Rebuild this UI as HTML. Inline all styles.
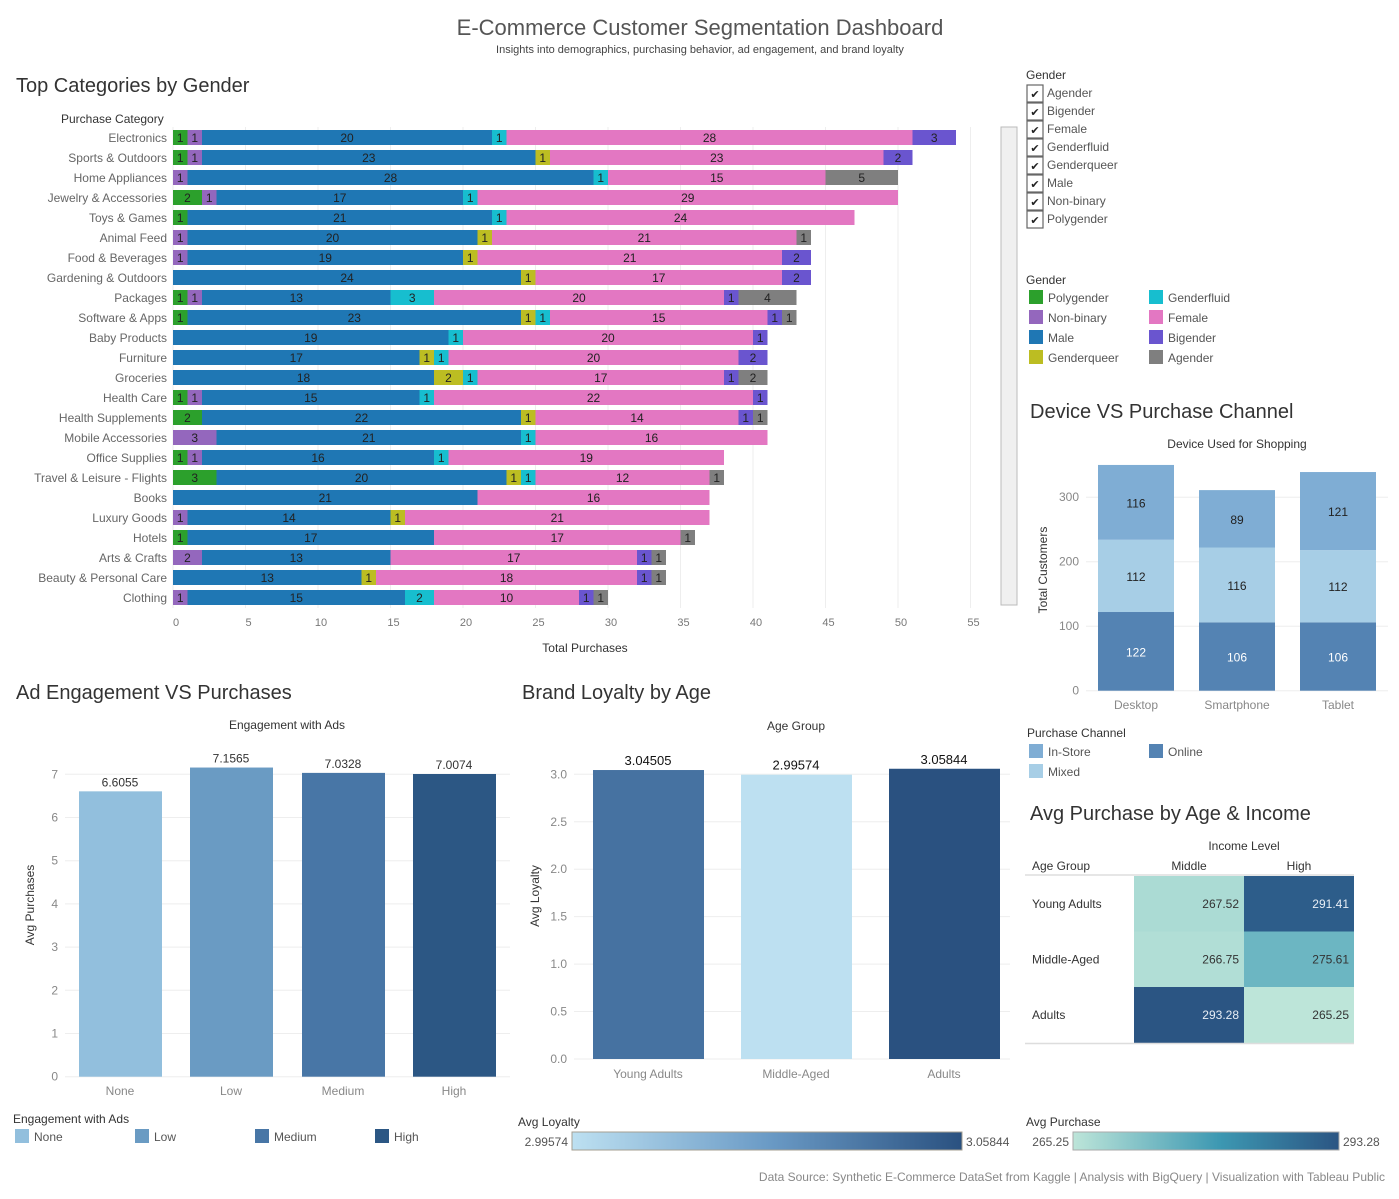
<!DOCTYPE html>
<html><head><meta charset="utf-8">
<style>
html,body{margin:0;padding:0;background:#fff;}
svg{display:block;font-family:"Liberation Sans",sans-serif;}
</style></head>
<body>
<svg id="dash" width="1399" height="1199" viewBox="0 0 1399 1199" xmlns="http://www.w3.org/2000/svg">
<rect x="0" y="0" width="1399" height="1199" fill="#fff"/>
<text x="700" y="35" text-anchor="middle" font-size="22" fill="#555">E-Commerce Customer Segmentation Dashboard</text>
<text x="700" y="53" text-anchor="middle" font-size="11" fill="#444">Insights into demographics, purchasing behavior, ad engagement, and brand loyalty</text>
<text x="16" y="92" font-size="20" fill="#333">Top Categories by Gender</text>
<text x="61" y="123" font-size="12" fill="#333">Purchase Category</text>
<rect x="1001" y="127" width="16" height="478" fill="#f0f0f0" stroke="#bbb"/>
<text x="585" y="652" text-anchor="middle" font-size="12" fill="#333">Total Purchases</text>
<g id="gbar"></g>
<text x="1026" y="79" font-size="12" fill="#333">Gender</text>
<g id="gfilter"></g>
<text x="1026" y="284" font-size="12" fill="#333">Gender</text>
<g id="glegend"></g>
<text x="1030" y="418" font-size="20" fill="#333">Device VS Purchase Channel</text>
<text x="1237" y="448" text-anchor="middle" font-size="12" fill="#333">Device Used for Shopping</text>
<text transform="translate(1047,570) rotate(-90)" text-anchor="middle" font-size="12" fill="#333">Total Customers</text>
<g id="gdev"></g>
<text x="1027" y="737" font-size="12" fill="#333">Purchase Channel</text>
<g id="gchan"></g>
<text x="16" y="699" font-size="20" fill="#333">Ad Engagement VS Purchases</text>
<text x="287" y="729" text-anchor="middle" font-size="12" fill="#333">Engagement with Ads</text>
<text transform="translate(34,905) rotate(-90)" text-anchor="middle" font-size="12" fill="#333">Avg Purchases</text>
<g id="gad"></g>
<text x="13" y="1123" font-size="12" fill="#333">Engagement with Ads</text>
<text x="522" y="699" font-size="20" fill="#333">Brand Loyalty by Age</text>
<text x="796" y="730" text-anchor="middle" font-size="12" fill="#333">Age Group</text>
<text transform="translate(539,896) rotate(-90)" text-anchor="middle" font-size="12" fill="#333">Avg Loyalty</text>
<g id="gloy"></g>
<text x="518" y="1126" font-size="12" fill="#333">Avg Loyalty</text>
<defs>
<linearGradient id="lgLoy" x1="0" x2="1"><stop offset="0" stop-color="#bde0f1"/><stop offset="0.5" stop-color="#6b9bc6"/><stop offset="1" stop-color="#2a5180"/></linearGradient>
<linearGradient id="lgPur" x1="0" x2="1"><stop offset="0" stop-color="#bde5d9"/><stop offset="0.55" stop-color="#3d98b2"/><stop offset="1" stop-color="#2b5583"/></linearGradient>
</defs>
<rect x="572" y="1132" width="390" height="18" fill="url(#lgLoy)" stroke="#a59f92"/>
<text x="568" y="1146" text-anchor="end" font-size="12" fill="#555">2.99574</text>
<text x="966" y="1146" font-size="12" fill="#555">3.05844</text>
<text x="1030" y="820" font-size="20" fill="#333">Avg Purchase by Age &amp; Income</text>
<text x="1244" y="850" text-anchor="middle" font-size="12" fill="#333">Income Level</text>
<text x="1032" y="870" font-size="12" fill="#333">Age Group</text>
<g id="gheat"></g>
<text x="1026" y="1126" font-size="12" fill="#333">Avg Purchase</text>
<rect x="1073" y="1132" width="266" height="18" fill="url(#lgPur)" stroke="#aaa"/>
<text x="1069" y="1146" text-anchor="end" font-size="12" fill="#555">265.25</text>
<text x="1343" y="1146" font-size="12" fill="#555">293.28</text>
<text x="1385" y="1181" text-anchor="end" font-size="12" fill="#888">Data Source: Synthetic E-Commerce DataSet from Kaggle | Analysis with BigQuery | Visualization with Tableau Public</text>
</svg>
<script>
// ---- Top categories data ----
const categories = ["Electronics","Sports & Outdoors","Home Appliances","Jewelry & Accessories","Toys & Games","Animal Feed","Food & Beverages","Gardening & Outdoors","Packages","Software & Apps","Baby Products","Furniture","Groceries","Health Care","Health Supplements","Mobile Accessories","Office Supplies","Travel & Leisure - Flights","Books","Luxury Goods","Hotels","Arts & Crafts","Beauty & Personal Care","Clothing"];
const genders = ["Polygender","Non-binary","Male","Genderqueer","Genderfluid","Female","Bigender","Agender"];
const polygender = [1,1,0,2,1,0,0,0,1,1,0,0,0,1,2,0,1,3,0,0,1,0,0,0];
const nonbinary  = [1,1,1,1,0,1,1,0,1,0,0,0,0,1,0,3,1,0,0,1,0,2,0,1];
const male       = [20,23,28,17,21,20,19,24,13,23,19,17,18,15,22,21,16,20,21,14,17,13,13,15];
const genderqueer= [0,1,0,0,0,1,1,1,0,1,0,1,2,0,1,0,0,1,0,1,0,0,1,0];
const genderfluid= [1,0,1,1,1,0,0,0,3,1,1,1,1,1,0,1,1,1,0,0,0,0,0,2];
const female     = [28,23,15,29,24,21,21,17,20,15,20,20,17,22,14,16,19,12,16,21,17,17,18,10];
const bigender   = [3,2,0,0,0,0,2,2,1,1,1,2,1,1,1,0,0,0,0,0,0,1,1,1];
const agender    = [0,0,5,0,0,1,0,0,4,1,0,0,2,0,1,0,0,1,0,0,1,1,1,1];
const xTicks = [0,5,10,15,20,25,30,35,40,45,50,55];
// ---- Device data ----
const devices = ["Desktop","Smartphone","Tablet"];
const onlineVals = [122,106,106];
const mixedVals = [112,116,112];
const instoreVals = [116,89,121];
const devTicks = [0,100,200,300];
// ---- Ad engagement ----
const engLevels = ["None","Low","Medium","High"];
const engValues = [6.6055,7.1565,7.0328,7.0074];
const engLabels = ["6.6055","7.1565","7.0328","7.0074"];
const engTicks = [0,1,2,3,4,5,6,7];
// ---- Loyalty ----
const ageGroups = ["Young Adults","Middle-Aged","Adults"];
const loyaltyValues = [3.04505,2.99574,3.05844];
const loyaltyLabels = ["3.04505","2.99574","3.05844"];
const loyTicks = ["0.0","0.5","1.0","1.5","2.0","2.5","3.0"];
// ---- Heatmap ----
const heatRows = ["Young Adults","Middle-Aged","Adults"];
const heatCols = ["Middle","High"];
const heatMiddle = [267.52,266.75,293.28];
const heatHigh = [291.41,275.61,265.25];

const NS="http://www.w3.org/2000/svg";
function mk(tag,attrs,parent,txt){const e=document.createElementNS(NS,tag);for(const k in attrs)e.setAttribute(k,attrs[k]);if(txt!==undefined)e.textContent=txt;parent.appendChild(e);return e;}
function hex(h){return[parseInt(h.slice(1,3),16),parseInt(h.slice(3,5),16),parseInt(h.slice(5,7),16)];}
function ramp(stops,t){t=Math.max(0,Math.min(1,t));for(let i=0;i<stops.length-1;i++){const[a,ca]=stops[i],[b,cb]=stops[i+1];if(t<=b){const u=(t-a)/(b-a),A=hex(ca),B=hex(cb);return"rgb("+A.map((v,j)=>Math.round(v+(B[j]-v)*u)).join(",")+")";}}return stops[stops.length-1][1];}

// ===== Stacked bar =====
(function(){
const g=document.getElementById('gbar');
const series=[polygender,nonbinary,male,genderqueer,genderfluid,female,bigender,agender];
const colors=["#2ca02c","#9467bd","#1f77b4","#bcbd22","#17becf","#e377c2","#6a55cf","#7f7f7f"];
const x=v=>173+v*14.5, y=i=>130+i*20;
xTicks.forEach(t=>{
  const l=mk('line',{x1:x(t),x2:x(t),y1:127,y2:608,stroke:'#eee'},g);
  
  
  const tx=mk('text',{x:x(t)+3,y:626,'text-anchor':'middle','font-size':11,fill:'#777'},g,String(t));
  
  
});
categories.forEach((c,i)=>{
  const lb=mk('text',{x:167,y:y(i)+12,'text-anchor':'end','font-size':12,fill:'#666'},g,c);
  
  
  let acc=0;
  series.forEach((s,k)=>{
    const v=s[i]; if(!v) return;
    const r=mk('rect',{x:x(acc),y:y(i),width:x(acc+v)-x(acc),height:15,fill:colors[k]},g);
    
    
    const t=mk('text',{x:(x(acc)+x(acc+v))/2,y:y(i)+12,'text-anchor':'middle','font-size':12,fill:'#222'},g,String(v));
    
    
    acc+=v;
  });
});
// filter checkboxes
const gf=document.getElementById('gfilter');
const filt=["Agender","Bigender","Female","Genderfluid","Genderqueer","Male","Non-binary","Polygender"];
filt.forEach((n,i)=>{
  const yy=85+i*18;
  const b=mk('rect',{x:1027,y:yy,width:16,height:17,fill:'#fff',stroke:'#666','stroke-width':1.2},gf);
  
  
  const ck=mk('text',{x:1035,y:yy+13,'text-anchor':'middle','font-size':11,fill:'#222'},gf,'✔');
  
  
  const t=mk('text',{x:1047,y:yy+12,'font-size':12,fill:'#555'},gf,n);
  
  
});
// color legend
const gl=document.getElementById('glegend');
const lorder=[0,4,1,5,2,6,3,7];
lorder.forEach((k,j)=>{
  const col=j%2, row=Math.floor(j/2);
  const xx=1029+col*120, yy=290+row*20;
  const s=mk('rect',{x:xx,y:yy,width:14,height:14,fill:colors[k]},gl);
  
  
  const t=mk('text',{x:xx+19,y:yy+12,'font-size':12,fill:'#555'},gl,genders[k]);
  
  
});
})();

// ===== Device stacked =====
(function(){
const g=document.getElementById('gdev');
const y=v=>690.7-v*0.645;
const bx=[1098,1199,1300];
devTicks.forEach(t=>{
  const l=mk('line',{x1:1086,x2:1388,y1:y(t),y2:y(t),stroke:'#eee'},g);
  
  
  const tx=mk('text',{x:1079,y:y(t)+4,'text-anchor':'end','font-size':12,fill:'#888'},g,String(t));
  
  
});
const ser=[onlineVals,mixedVals,instoreVals], cols=["#5483b3","#a7cee6","#7fadd4"], nm=["online","mixed","in-store"];
devices.forEach((d,i)=>{
  let acc=0;
  ser.forEach((s,k)=>{
    const v=s[i];
    const r=mk('rect',{x:bx[i],y:y(acc+v),width:76,height:y(acc)-y(acc+v),fill:cols[k]},g);
    
    
    const t=mk('text',{x:bx[i]+38,y:(y(acc)+y(acc+v))/2+5,'text-anchor':'middle','font-size':12,fill:k==0?'#fff':'#222'},g,String(v));
    
    
    acc+=v;
  });
  const t=mk('text',{x:bx[i]+38,y:709,'text-anchor':'middle','font-size':12,fill:'#888'},g,d);
  
  
});
const gc=document.getElementById('gchan');
[["In-Store","#7fadd4",1029,744],["Online","#5483b3",1149,744],["Mixed","#a7cee6",1029,764]].forEach(a=>{
  const s=mk('rect',{x:a[2],y:a[3],width:14,height:14,fill:a[1]},gc);
  
  
  const t=mk('text',{x:a[2]+19,y:a[3]+12,'font-size':12,fill:'#555'},gc,a[0]);
  
  
});
})();

// ===== Ad engagement =====
(function(){
const g=document.getElementById('gad');
const y=v=>1076.7-v*43.2;
const bx=[79,190,302,413], cols=["#92bfdd","#6a9bc3","#4876a6","#2c5784"];
engTicks.forEach(t=>{
  const l=mk('line',{x1:65,x2:510,y1:y(t),y2:y(t),stroke:'#eee'},g);
  
  
  const tx=mk('text',{x:58,y:y(t)+4,'text-anchor':'end','font-size':12,fill:'#888'},g,String(t));
  
  
});
engLevels.forEach((c,i)=>{
  const r=mk('rect',{x:bx[i],y:y(engValues[i]),width:83,height:y(0)-y(engValues[i]),fill:cols[i]},g);
  
  
  const t=mk('text',{x:bx[i]+41,y:y(engValues[i])-5,'text-anchor':'middle','font-size':12,fill:'#333'},g,engLabels[i]);
  
  
  const cl=mk('text',{x:bx[i]+41,y:1095,'text-anchor':'middle','font-size':12,fill:'#888'},g,c);
  
  
  const s=mk('rect',{x:15+i*120,y:1129,width:14,height:14,fill:cols[i]},g);
  
  
  const lt=mk('text',{x:34+i*120,y:1141,'font-size':12,fill:'#555'},g,c);
  
  
});
})();

// ===== Loyalty =====
(function(){
const g=document.getElementById('gloy');
const y=v=>1059-v*94.9;
const bx=[593,741,889];
const mn=Math.min(...loyaltyValues), mx=Math.max(...loyaltyValues);
loyTicks.forEach(t=>{
  const v=parseFloat(t);
  const l=mk('line',{x1:574,x2:1010,y1:y(v),y2:y(v),stroke:'#eee'},g);
  
  
  const tx=mk('text',{x:567,y:y(v)+4,'text-anchor':'end','font-size':12,fill:'#888'},g,t);
  
  
});
ageGroups.forEach((a,i)=>{
  const v=loyaltyValues[i];
  const col=ramp([[0,"#bde0f1"],[0.5,"#6b9bc6"],[0.8,"#44709f"],[1,"#2a5180"]],(v-mn)/(mx-mn));
  const r=mk('rect',{x:bx[i],y:y(v),width:111,height:y(0)-y(v),fill:col},g);
  
  
  const t=mk('text',{x:bx[i]+55,y:y(v)-5,'text-anchor':'middle','font-size':13,fill:'#111'},g,loyaltyLabels[i]);
  
  
  const cl=mk('text',{x:bx[i]+55,y:1078,'text-anchor':'middle','font-size':12,fill:'#888'},g,a);
  
  
});
})();

// ===== Heatmap =====
(function(){
const g=document.getElementById('gheat');
const all=heatMiddle.concat(heatHigh), mn=Math.min(...all), mx=Math.max(...all);
const stops=[[0,"#bde5d9"],[0.4,"#65b2c0"],[0.75,"#33739c"],[1,"#2b5583"]];
const cx=[1134,1244], cyy=[876,931.5,987];
heatCols.forEach((c,j)=>{
  const t=mk('text',{x:cx[j]+55,y:870,'text-anchor':'middle','font-size':12,fill:'#333'},g,c);
  
  
});
const cols=[heatMiddle,heatHigh];
heatRows.forEach((r,i)=>{
  const t=mk('text',{x:1032,y:cyy[i]+32,'font-size':12,fill:'#333'},g,r);
  
  
  cols.forEach((arr,j)=>{
    const v=arr[i], tt=(v-mn)/(mx-mn);
    const c=mk('rect',{x:cx[j],y:cyy[i],width:110,height:56,fill:ramp(stops,tt)},g);
    
    
    const vt=mk('text',{x:cx[j]+105,y:cyy[i]+32,'text-anchor':'end','font-size':12,fill:tt>0.7?'#e8eef5':'#333'},g,v.toFixed(2));
    
    
  });
});
const l1=mk('line',{x1:1025,x2:1354,y1:875,y2:875,stroke:'#ddd','stroke-width':1.5},g);


const l2=mk('line',{x1:1025,x2:1354,y1:1043.5,y2:1043.5,stroke:'#ddd','stroke-width':1.5},g);


})();
</script>
</body></html>
